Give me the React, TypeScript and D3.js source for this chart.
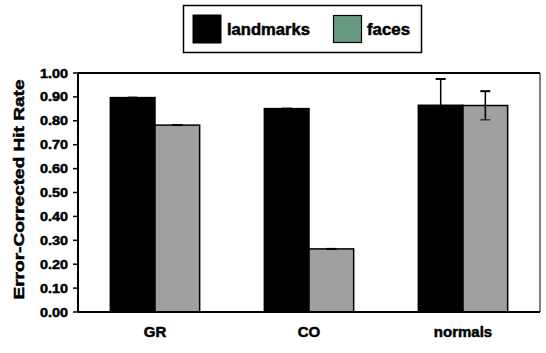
import React from "react";
import * as d3 from "d3";

const categories = ["GR", "CO", "normals"];
const seriesNames = ["landmarks", "faces"];
const landmarks = [0.897, 0.851, 0.865];
const faces = [0.782, 0.264, 0.864];
const landmarksErr = [0, 0, 0.11];
const facesErr = [0, 0, 0.06];
const yTicks = [0, 0.1, 0.2, 0.3, 0.4, 0.5, 0.6, 0.7, 0.8, 0.9, 1.0];

const barColors = ["#000000", "#a0a0a0"];
const legendColors = ["#000000", "#669a80"];

export default function App() {
  const W = 546, H = 353;
  const left = 78, right = 540, top = 73, bottom = 312;
  const x0 = d3.scaleBand().domain(categories).range([left, right]).paddingInner(0.42).paddingOuter(0.21);
  const x1 = d3.scaleBand().domain(seriesNames).range([0, x0.bandwidth()]);
  const y = d3.scaleLinear().domain([0, 1]).range([bottom, top]);
  const series = [landmarks, faces];
  const errs = [landmarksErr, facesErr];
  const font = "'Liberation Sans', Arial, sans-serif";
  const heavy = { stroke: "#000", strokeWidth: 0.5 } as const;

  return (
    <svg width={W} height={H} style={{ position: "absolute", left: 0, top: 0 }}>
      <rect x={0} y={0} width={W} height={H} fill="#fff" />
      {/* legend */}
      <rect x={183.5} y={5.5} width={238} height={47} fill="#fff" stroke="#000" strokeWidth={1.5} />
      <rect x={193} y={15} width={28} height={28} fill={legendColors[0]} stroke="#000" strokeWidth={1} />
      <text x={227} y={35} fontFamily={font} fontWeight="bold" fontSize={16} textLength={83} lengthAdjust="spacingAndGlyphs" {...heavy}>{seriesNames[0]}</text>
      <rect x={333.5} y={15.5} width={28} height={27} fill={legendColors[1]} stroke="#000" strokeWidth={1.2} />
      <text x={367} y={35} fontFamily={font} fontWeight="bold" fontSize={16} textLength={43} lengthAdjust="spacingAndGlyphs" {...heavy}>{seriesNames[1]}</text>

      {/* plot frame */}
      <line x1={left} x2={right} y1={top} y2={top} stroke="#000" strokeWidth={2} />
      <line x1={right} x2={right} y1={top} y2={bottom} stroke="#000" strokeWidth={1} />

      {/* bars */}
      {categories.map((c, i) =>
        seriesNames.map((s, j) => {
          const v = series[j][i];
          const bx = (x0(c) as number) + (x1(s) as number);
          return (
            <rect key={c + s} x={bx} y={y(v)} width={x1.bandwidth()} height={bottom - y(v)}
              fill={barColors[j]} stroke="#000" strokeWidth={1.5} />
          );
        })
      )}
      {/* error bars */}
      {categories.map((c, i) =>
        seriesNames.map((s, j) => {
          const v = series[j][i];
          const e = errs[j][i];
          const cx = (x0(c) as number) + (x1(s) as number) + x1.bandwidth() / 2;
          return (
            <g key={"e" + c + s} stroke="#000">
              <line x1={cx} x2={cx} y1={y(v + e)} y2={y(v - e)} strokeWidth={1.5} />
              <line x1={cx - 5} x2={cx + 5} y1={y(v + e)} y2={y(v + e)} strokeWidth={2} />
              <line x1={cx - 5} x2={cx + 5} y1={y(v - e)} y2={y(v - e)} strokeWidth={1} />
            </g>
          );
        })
      )}

      {/* axes */}
      <line x1={left} x2={left} y1={top} y2={bottom} stroke="#000" strokeWidth={2} />
      <line x1={left} x2={right} y1={bottom} y2={bottom} stroke="#000" strokeWidth={2} />
      {yTicks.map((t) => (
        <g key={t}>
          <line x1={left - 5} x2={left} y1={y(t)} y2={y(t)} stroke="#000" strokeWidth={1.5} />
          <text x={left - 10} y={y(t) + 4.5} textAnchor="end" fontFamily={font} fontWeight="bold" fontSize={13}
            textLength={28} lengthAdjust="spacingAndGlyphs" {...heavy}>{t.toFixed(2)}</text>
        </g>
      ))}
      {categories.map((c) => (
        <text key={c} x={(x0(c) as number) + x0.bandwidth() / 2} y={337} textAnchor="middle"
          fontFamily={font} fontWeight="bold" fontSize={15} {...heavy}>{c}</text>
      ))}
      <text transform={`translate(24, ${(top + bottom) / 2 - 3}) rotate(-90)`} textAnchor="middle"
        fontFamily={font} fontWeight="bold" fontSize={15} textLength={220} lengthAdjust="spacingAndGlyphs" {...heavy}>Error-Corrected Hit Rate</text>
    </svg>
  );
}
